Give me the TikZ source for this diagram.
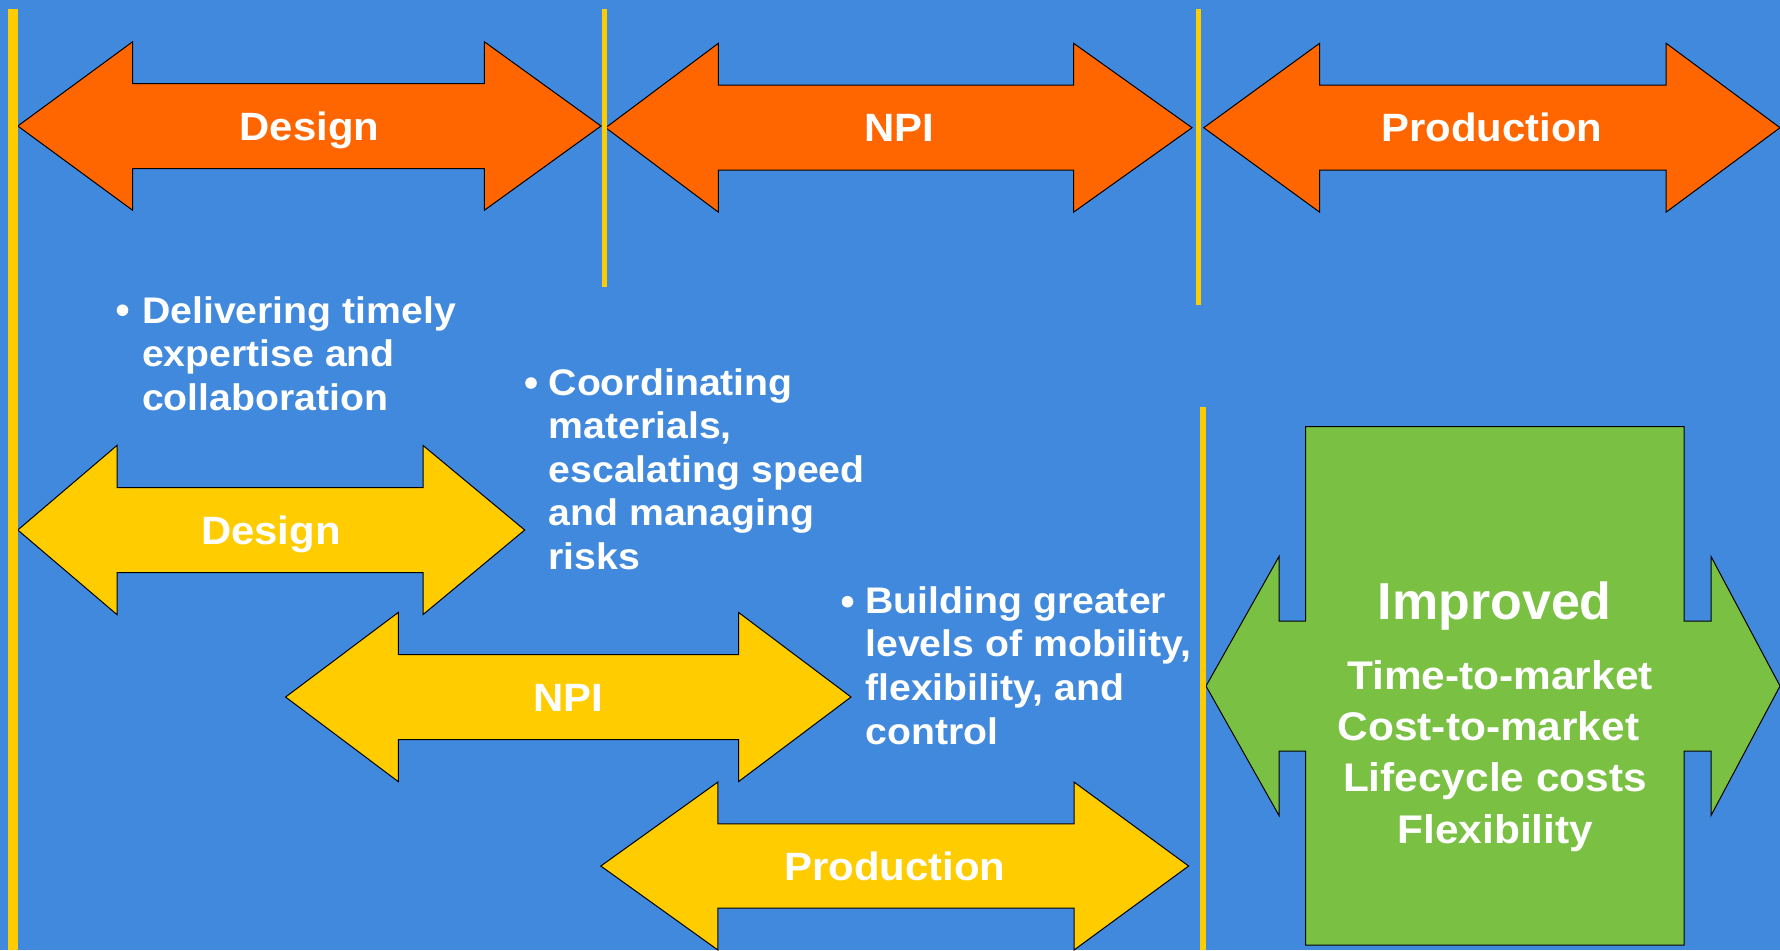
\documentclass[tikz,border=0pt]{standalone}
\usepackage{fontspec}
\setmainfont{Liberation Sans}[FakeStretch=1.06]
\newfontfamily\plainsans{Liberation Sans}
\definecolor{bgblue}{HTML}{4189DD}
\definecolor{orangec}{HTML}{FF6600}
\definecolor{yellowc}{HTML}{FFCC00}
\definecolor{greenc}{HTML}{7AC143}
% args: tipL, headL, headR, tipR, ymid, headhalf, shafthalf, fill
\newcommand\dblarrow[8]{%
  \draw[arrowshape, fill=#8] ({#1},{#5}) -- ({#2},{#5-#6}) -- ({#2},{#5-#7}) -- ({#3},{#5-#7}) -- ({#3},{#5-#6}) -- ({#4},{#5}) -- ({#3},{#5+#6}) -- ({#3},{#5+#7}) -- ({#2},{#5+#7}) -- ({#2},{#5+#6}) -- cycle;}
\begin{document}
\begin{tikzpicture}[x=0.5pt,y=-0.5pt,
  arrowshape/.style={draw=black, line width=0.5pt, line join=miter},
  lab/.style={text=white, inner sep=0pt, font=\fontsize{19.75}{24}\selectfont\bfseries, text height=14.1pt, text depth=0pt, anchor=center},
  bultext/.style={text=white, inner sep=0pt, anchor=base west, font=\fontsize{18.5}{21.8}\selectfont\bfseries},
  dotbul/.style={circle, fill=white, inner sep=0pt, minimum size=5.8pt},
  vbar/.style={fill=yellowc},
  greentext/.style={text=white, inner sep=0pt, anchor=base, font=\fontsize{20}{24}\selectfont\bfseries},
  bigtext/.style={text=white, inner sep=0pt, anchor=base, font=\fontsize{26}{30}\selectfont\plainsans\bfseries}]
\useasboundingbox (0,0) rectangle (1780,950);
\fill[bgblue] (0,0) rectangle (1780,950);

% top orange arrows
\dblarrow{17.8}{132.5}{484.4}{601}{126}{84.2}{42.5}{orangec}
\dblarrow{605.7}{718.4}{1073.5}{1192}{127.7}{84.5}{42.5}{orangec}
\dblarrow{1203.7}{1319.7}{1666}{1780}{127.7}{84.5}{42.5}{orangec}
\node[lab] (tdesign) at (309.4,126) {Design};
\node[lab] (tnpi) at (898.9,127.7) {NPI};
\node[lab] (tprod) at (1492,127.7) {Production};

% lower yellow arrows
\dblarrow{17.8}{117}{423}{524.7}{530}{84.6}{42.5}{yellowc}
\dblarrow{285.6}{398.3}{738.5}{851}{697}{84.6}{42.5}{yellowc}
\dblarrow{600.8}{717.9}{1074}{1188.6}{866}{84}{42.2}{yellowc}
\node[lab] (ydesign) at (271,530) {Design};
\node[lab] (ynpi) at (568.3,697) {NPI};
\node[lab] (yprod) at (894.7,866) {Production};

% green result arrow
\draw[arrowshape, fill=greenc] (1305.5,426.5) -- (1684,426.5) -- (1684,621) -- (1711,621) -- (1711,556.5) -- (1780,686) -- (1711,815.5) -- (1711,751) -- (1684,751) -- (1684,945) -- (1305.5,945) -- (1305.5,751) -- (1279,751) -- (1279,815.5) -- (1206,686) -- (1279,556.5) -- (1279,621) -- (1305.5,621) -- cycle;
\node[bigtext] (gimp) at (1494.7,619) {Improved};
\node[greentext] (gtime) at (1500,689.5) {Time-to-market};
\node[greentext] (gcost) at (1488.5,740) {Cost-to-market};
\node[greentext] (glife) at (1495,791) {Lifecycle costs};
\node[greentext] (gflex) at (1495.4,843) {Flexibility};

% yellow vertical bars
\fill[vbar] (8,9) rectangle (17.8,950);
\fill[vbar] (601.8,9) rectangle (607.2,287);
\fill[vbar] (1196,9) rectangle (1201,305);
\fill[vbar] (1200,407) rectangle (1206,950);

% bullets
\node[dotbul] (d1) at (122.5,310.2) {};
\node[bultext] (b1) at (141.7,323.3) {\parbox[t]{12cm}{\raggedright Delivering timely\\expertise and\\collaboration}};
\node[dotbul] (d2) at (531,383) {};
\node[bultext] (b2) at (548.3,395) {\parbox[t]{12cm}{\raggedright Coordinating\\materials,\\escalating speed\\and managing\\risks}};
\node[dotbul] (d3) at (847.5,601.7) {};
\node[bultext] (b3) at (865,613.3) {\parbox[t]{12cm}{\raggedright Building greater\\levels of mobility,\\flexibility, and\\control}};
\end{tikzpicture}
\end{document}
